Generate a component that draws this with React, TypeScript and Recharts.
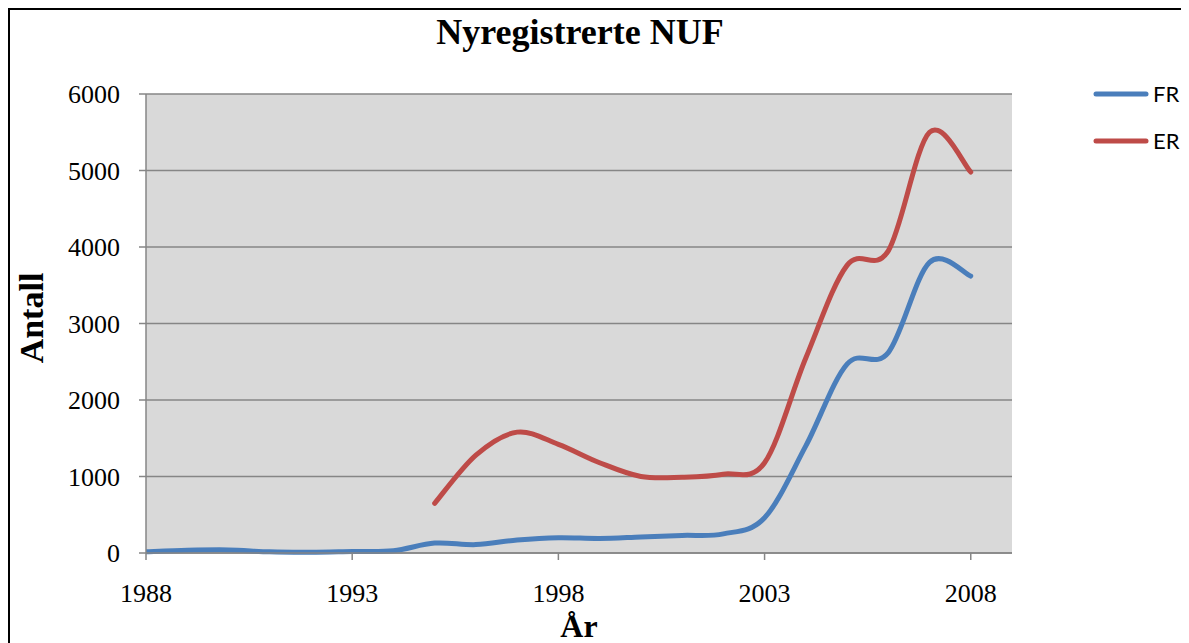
import { LineChart, Line, XAxis, YAxis, CartesianGrid } from 'recharts'

const years = [1988, 1989, 1990, 1991, 1992, 1993, 1994, 1995, 1996, 1997, 1998, 1999, 2000, 2001, 2002, 2003, 2004, 2005, 2006, 2007, 2008]
const frValues = [15, 35, 40, 15, 10, 20, 30, 130, 110, 170, 200, 190, 210, 230, 250, 460, 1400, 2470, 2620, 3800, 3620]
const erValues = [null, null, null, null, null, null, null, 650, 1280, 1580, 1420, 1180, 1000, 990, 1030, 1180, 2550, 3760, 3950, 5500, 4980]
const xTicks = [1988, 1993, 1998, 2003, 2008]
const yTicks = [0, 1000, 2000, 3000, 4000, 5000, 6000]

const data = years.map((year, i) => ({ year, FR: frValues[i], ER: erValues[i] }))

const SERIES = [
  { key: 'FR', color: '#4a7ebb' },
  { key: 'ER', color: '#be4b48' },
]

// Excel-style smoothed line (Catmull-Rom through each point)
function smoothCurve(context: any) {
  let pts: number[][] = []
  return {
    areaStart() {},
    areaEnd() {},
    lineStart() { pts = [] },
    point(x: number, y: number) { pts.push([+x, +y]) },
    lineEnd() {
      if (!pts.length) return
      context.moveTo(pts[0][0], pts[0][1])
      for (let i = 0; i < pts.length - 1; i++) {
        const p0 = pts[i - 1] || pts[i]
        const p1 = pts[i]
        const p2 = pts[i + 1]
        const p3 = pts[i + 2] || p2
        context.bezierCurveTo(
          p1[0] + (p2[0] - p0[0]) / 6, p1[1] + (p2[1] - p0[1]) / 6,
          p2[0] - (p3[0] - p1[0]) / 6, p2[1] - (p3[1] - p1[1]) / 6,
          p2[0], p2[1]
        )
      }
    },
  }
}

const serif = '"Liberation Serif", "Times New Roman", serif'
const tickStyle = { fontSize: 26, fontFamily: serif, fill: '#000' }

export default function App() {
  return (
    <div
      style={{
        position: 'relative',
        width: 1179,
        height: 633,
        borderLeft: '2px solid #000',
        borderTop: '2px solid #000',
        overflow: 'hidden',
        background: '#fff',
      }}
    >
      <div
        style={{
          position: 'absolute', left: 0, width: 1140, top: 4, textAlign: 'center',
          fontFamily: serif, fontWeight: 'bold', fontSize: 36, lineHeight: '36px',
        }}
      >
        Nyregistrerte NUF
      </div>

      <LineChart width={1179} height={633} data={data} margin={{ top: 84, right: 177, left: 56, bottom: 40 }}>
        <CartesianGrid vertical={false} stroke="#868686" strokeWidth={1.5} fill="#d9d9d9" />
        <XAxis
          dataKey="year"
          type="number"
          domain={[1988, 2009]}
          ticks={xTicks}
          height={50}
          tick={tickStyle}
          tickSize={7}
          tickMargin={24}
          stroke="#868686"
          strokeWidth={1.5}
          allowDataOverflow
        />
        <YAxis
          domain={[0, 6000]}
          ticks={yTicks}
          width={80}
          tick={tickStyle}
          tickSize={7}
          tickMargin={19}
          stroke="#868686"
          strokeWidth={1.5}
        />
        {SERIES.map((s) => (
          <Line
            key={s.key}
            dataKey={s.key}
            type={smoothCurve as any}
            stroke={s.color}
            strokeWidth={5}
            strokeLinecap="round"
            dot={false}
            activeDot={false}
            isAnimationActive={false}
          />
        ))}
      </LineChart>

      <div
        style={{
          position: 'absolute', left: 22 - 100, top: 308 - 17, width: 200, textAlign: 'center',
          fontFamily: serif, fontWeight: 'bold', fontSize: 34, lineHeight: '34px',
          transform: 'rotate(-90deg)',
        }}
      >
        Antall
      </div>
      <div
        style={{
          position: 'absolute', left: 469, width: 200, top: 602, textAlign: 'center',
          fontFamily: serif, fontWeight: 'bold', fontSize: 32, lineHeight: '28px',
        }}
      >
        År
      </div>

      {/* legend */}
      <div style={{ position: 'absolute', left: 1083, top: 60 }}>
        {SERIES.map((s) => (
          <div key={s.key} style={{ display: 'flex', alignItems: 'center', height: 47 }}>
            <svg width={56} height={10}>
              <line x1={3} y1={5} x2={53} y2={5} stroke={s.color} strokeWidth={5} strokeLinecap="round" />
            </svg>
            <span style={{ fontFamily: 'Lato, "Open Sans", sans-serif', fontSize: 22, marginLeft: 4 }}>{s.key}</span>
          </div>
        ))}
      </div>
    </div>
  )
}
